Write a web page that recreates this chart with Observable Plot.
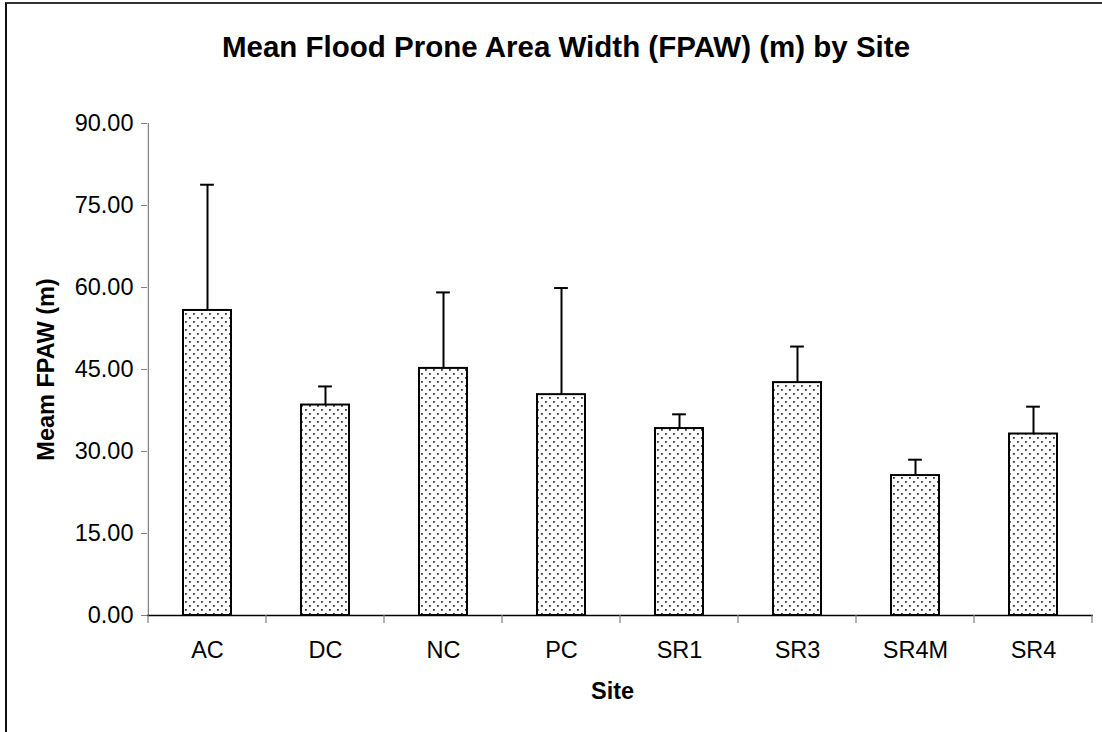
<!DOCTYPE html>
<html>
<head>
<meta charset="utf-8">
<script src="https://cdn.jsdelivr.net/npm/d3@7"></script>
<script src="https://cdn.jsdelivr.net/npm/@observablehq/plot@0.6"></script>
<style>
  html, body { margin: 0; padding: 0; background: #fff; overflow: hidden; width: 1102px; height: 732px; }
  body { position: relative; font-family: "Liberation Sans", Arial, sans-serif; }
  #frame { position: absolute; left: 5px; top: 2px; width: 1300px; height: 900px; border-left: 2px solid #111; border-top: 2px solid #333; box-sizing: border-box; }
  #title { position: absolute; left: 0; width: 1132px; top: 30px; text-align: center; font-weight: bold; font-size: 29.5px; line-height: 34px; color: #000; }
  #chart { position: absolute; left: 0; top: 80px; }
  #chart [aria-label="y-axis tick"], #chart [aria-label="y-axis"] .tick line { stroke: #808080; }
</style>
</head>
<body>
<div id="frame"></div>
<div id="title">Mean Flood Prone Area Width (FPAW) (m) by Site</div>
<div id="chart"></div>
<script>
const sites = ["AC", "DC", "NC", "PC", "SR1", "SR3", "SR4M", "SR4"];
const means = [55.8, 38.5, 45.2, 40.4, 34.2, 42.6, 25.6, 33.2];
const errors = [23.0, 3.4, 13.9, 19.5, 2.6, 6.6, 2.9, 5.0];
const yTicks = [0, 15, 30, 45, 60, 75, 90];
const xLabel = "Site";
const yLabel = "Meam FPAW (m)";

const data = sites.map((s, i) => ({site: s, mean: means[i], top: means[i] + errors[i]}));

const W = 1102, H = 652, ML = 147, MR = 9, MT = 43, MB = 117;
const band = (W - ML - MR) / sites.length;
const font = "'Liberation Sans', Arial, sans-serif";

const plot = Plot.plot({
  width: W, height: H,
  marginLeft: ML, marginRight: MR, marginTop: MT, marginBottom: MB,
  style: {fontFamily: font, fontSize: "23.5px", color: "#000", background: "transparent", overflow: "visible"},
  x: {domain: sites, padding: 0, axis: "bottom", tickSize: 0, tickPadding: 26, label: null},
  y: {domain: [0, 90], axis: "left", ticks: yTicks, tickSize: 6, tickPadding: 8, tickFormat: d3.format(".2f"), label: null},
  marks: [
    Plot.ruleX([sites[0]], {dx: -band / 2, y1: 0, y2: 90, stroke: "#808080", strokeWidth: 1.2}),
    Plot.ruleX(data, {x: "site", y1: "mean", y2: "top", stroke: "#000", strokeWidth: 2}),
    Plot.tickY(data, {x: "site", y: "top", stroke: "#000", strokeWidth: 2, insetLeft: (band - 14) / 2, insetRight: (band - 14) / 2}),
    Plot.barY(data, {x: "site", y: "mean", fill: "url(#dots)", stroke: "#000", strokeWidth: 2, insetLeft: 35, insetRight: 35}),
    Plot.ruleY([0], {stroke: "#000", strokeWidth: 1.5}),
    Plot.text([xLabel], {frameAnchor: "bottom", textAnchor: "middle", lineAnchor: "middle", dy: 76, dx: -8, fontWeight: "bold", fontSize: 23.5, fill: "#000"}),
    Plot.text([yLabel], {frameAnchor: "left", textAnchor: "middle", lineAnchor: "middle", dx: -101, rotate: -90, fontWeight: "bold", fontSize: 23.5, fill: "#000"})
  ]
});

const svg = d3.select(plot);
const defs = svg.insert("defs", ":first-child");
const pat = defs.append("pattern").attr("id", "dots").attr("patternUnits", "userSpaceOnUse").attr("width", 8).attr("height", 8);
pat.append("rect").attr("width", 8).attr("height", 8).attr("fill", "#fff");
pat.append("rect").attr("x", 1).attr("y", 1).attr("width", 1.8).attr("height", 1.8).attr("fill", "#3a3a3a");
pat.append("rect").attr("x", 5).attr("y", 5).attr("width", 1.8).attr("height", 1.8).attr("fill", "#3a3a3a");

// Category boundary ticks on the x axis, positioned with the plot's own scales
const xs = plot.scale("x"), ys = plot.scale("y");
const y0 = ys.apply(0);
const bounds = sites.map(s => xs.apply(s)).concat([xs.apply(sites[sites.length - 1]) + xs.bandwidth]);
svg.append("g").attr("aria-label", "x boundary ticks")
  .selectAll("line").data(bounds).join("line")
  .attr("x1", d => d).attr("x2", d => d)
  .attr("y1", y0).attr("y2", y0 + 8)
  .attr("stroke", "#808080").attr("stroke-width", 1.2);

document.getElementById("chart").appendChild(plot);
</script>
</body>
</html>
